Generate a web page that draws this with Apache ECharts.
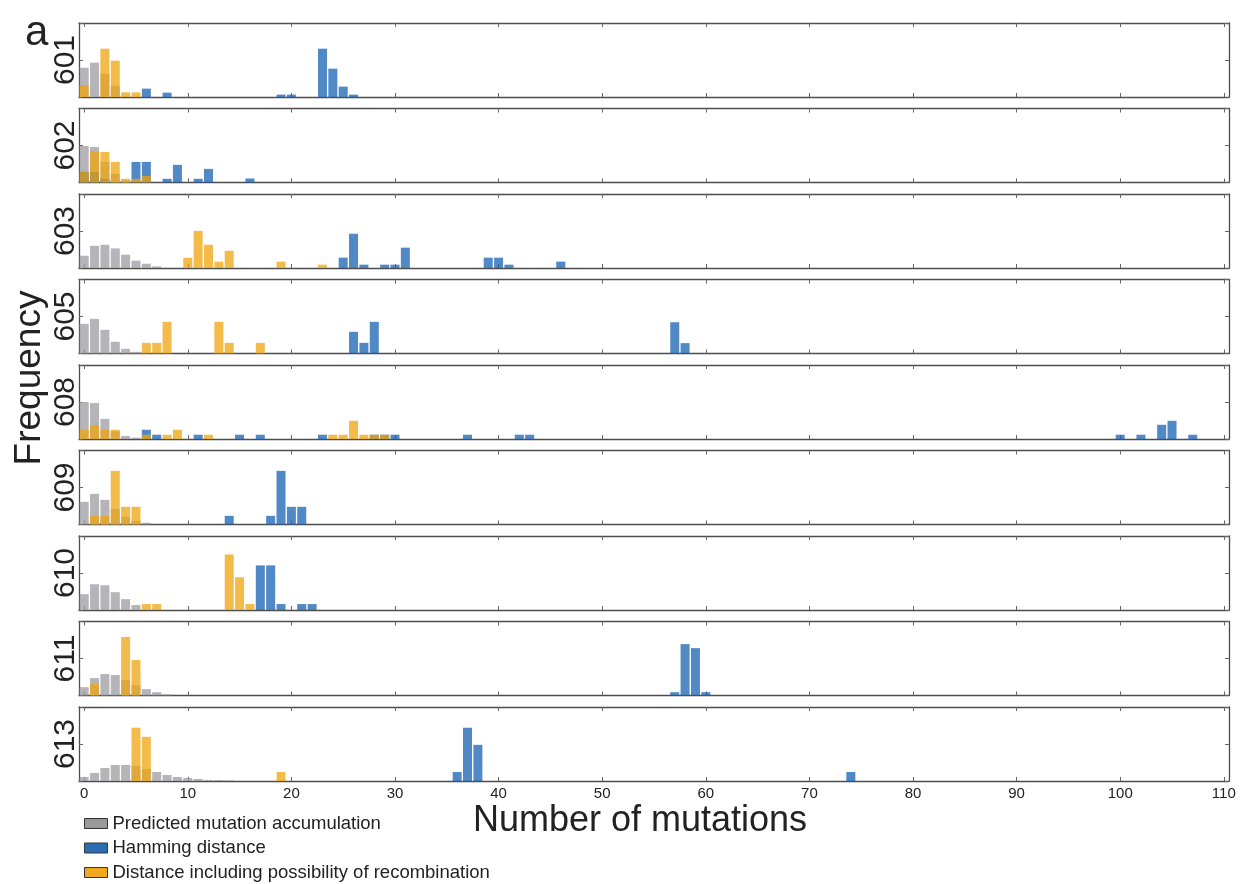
<!DOCTYPE html>
<html>
<head>
<meta charset="utf-8">
<script src="https://cdn.jsdelivr.net/npm/echarts@6/dist/echarts.min.js"></script>
<style>
html,body{margin:0;padding:0;background:#fff;}
#chart{width:1245px;height:884px;}
</style>
</head>
<body>
<div id="chart"></div>
<script>
// ---------- DATA ----------
const panelNames = ['601','602','603','605','608','609','610','611','613'];
const xTickLabels = ['0','10','20','30','40','50','60','70','80','90','100','110'];
const seriesNames = ['Predicted mutation accumulation','Hamming distance','Distance including possibility of recombination'];

// [number of mutations, frequency (fraction of panel height)]
const pred601 = [[0,0.396],[1,0.464],[2,0.315],[3,0.153]];
const ham601  = [[6,0.113],[8,0.059],[19,0.032],[20,0.032],[23,0.653],[24,0.383],[25,0.14],[26,0.032]];
const rec601  = [[0,0.162],[2,0.653],[3,0.491],[4,0.063],[5,0.063]];

const pred602 = [[0,0.493],[1,0.48],[2,0.278],[3,0.117],[4,0.03]];
const ham602  = [[0,0.143],[1,0.143],[2,0.05],[5,0.278],[6,0.278],[8,0.05],[9,0.238],[11,0.05],[12,0.184],[16,0.054]];
const rec602  = [[0,0.143],[1,0.417],[2,0.413],[3,0.278],[4,0.05],[5,0.05],[6,0.09]];

const pred603 = [[0,0.166],[1,0.30],[2,0.314],[3,0.265],[4,0.179],[5,0.099],[6,0.058],[7,0.022]];
const ham603  = [[25,0.14],[26,0.463],[27,0.045],[29,0.045],[30,0.045],[31,0.275],[39,0.14],[40,0.14],[41,0.045],[46,0.086]];
const rec603  = [[10,0.139],[11,0.502],[12,0.314],[13,0.085],[14,0.233],[19,0.086],[23,0.045]];

const pred605 = [[0,0.40],[1,0.468],[2,0.32],[3,0.158],[4,0.063],[5,0.023]];
const ham605  = [[26,0.293],[27,0.144],[28,0.428],[57,0.423],[58,0.14]];
const rec605  = [[6,0.144],[7,0.144],[8,0.428],[13,0.428],[14,0.144],[17,0.144]];

const pred608 = [[0,0.50],[1,0.487],[2,0.272],[3,0.107],[4,0.04],[5,0.018]];
const ham608  = [[6,0.125],[7,0.058],[11,0.058],[15,0.058],[17,0.058],[23,0.058],[28,0.058],[29,0.058],[30,0.058],[37,0.058],[42,0.058],[43,0.058],[100,0.058],[102,0.058],[104,0.192],[105,0.246],[107,0.058]];
const rec608  = [[0,0.125],[1,0.1875],[2,0.125],[3,0.125],[6,0.058],[8,0.058],[9,0.125],[12,0.058],[24,0.058],[25,0.058],[26,0.246],[27,0.058],[28,0.058],[29,0.058]];

const pred609 = [[0,0.306],[1,0.414],[2,0.333],[3,0.212],[4,0.104],[5,0.05],[6,0.023]];
const ham609  = [[14,0.117],[18,0.117],[19,0.725],[20,0.239],[21,0.239]];
const rec609  = [[1,0.117],[2,0.117],[3,0.725],[4,0.239],[5,0.239]];

const pred610 = [[0,0.214],[1,0.348],[2,0.335],[3,0.241],[4,0.147],[5,0.067]];
const ham610  = [[17,0.603],[18,0.603],[19,0.08],[21,0.08],[22,0.08]];
const rec610  = [[6,0.08],[7,0.08],[14,0.75],[15,0.442],[16,0.08]];

const pred611 = [[0,0.113],[1,0.235],[2,0.29],[3,0.276],[4,0.208],[5,0.14],[6,0.086],[7,0.045],[8,0.018]];
const ham611  = [[57,0.045],[58,0.694],[59,0.64],[60,0.045]];
const rec611  = [[1,0.154],[4,0.792],[5,0.48]];

const pred613 = [[0,0.054],[1,0.109],[2,0.176],[3,0.217],[4,0.217],[5,0.204],[6,0.163],[7,0.122],[8,0.081],[9,0.054],[10,0.041],[11,0.027],[12,0.014],[13,0.014],[14,0.009]];
const ham613  = [[36,0.122],[37,0.72],[38,0.489],[74,0.122]];
const rec613  = [[5,0.72],[6,0.597],[19,0.122]];

const predByPanel = [pred601,pred602,pred603,pred605,pred608,pred609,pred610,pred611,pred613];
const hamByPanel  = [ham601,ham602,ham603,ham605,ham608,ham609,ham610,ham611,ham613];
const recByPanel  = [rec601,rec602,rec603,rec605,rec608,rec609,rec610,rec611,rec613];

// ---------- CHART ----------
const FONT = 'Liberation Sans, Arial, Helvetica, sans-serif';
const barColors = ['#9c9ca1', '#1662b2', '#efa40e'];
const legendColors = ['#999999', '#2b6cb5', '#f0a81c'];
const lineColor = '#4d4d4d';

// category axis values 0..110 (derived from tick labels range)
const maxMut = Number(xTickLabels[xTickLabels.length - 1]);
const categories = [];
for (let i = 0; i <= maxMut; i++) categories.push(String(i));

const grids = [], xAxes = [], yAxes = [], series = [];
const n = panelNames.length;
panelNames.forEach((name, i) => {
  const last = i === n - 1;
  grids.push({left: 79, right: 16, top: 23 + 85.5 * i, height: 74});
  xAxes.push({
    type: 'category', gridIndex: i, data: categories, position: 'bottom',
    boundaryGap: true,
    axisLine: {show: true, onZero: false, lineStyle: {color: lineColor, width: 1.3}},
    axisTick: {show: true, inside: true, length: 4, interval: 9, alignWithLabel: true, lineStyle: {color: '#666'}},
    axisLabel: {show: last, interval: 9, margin: 5, fontSize: 15, color: '#222', fontFamily: FONT},
    splitLine: {show: false}
  });
  xAxes.push({
    type: 'category', gridIndex: i, data: categories, position: 'top',
    boundaryGap: true,
    axisLine: {show: true, onZero: false, lineStyle: {color: lineColor, width: 1.3}},
    axisTick: {show: true, inside: true, length: 4, interval: 9, alignWithLabel: true, lineStyle: {color: '#666'}},
    axisLabel: {show: false},
    splitLine: {show: false}
  });
  yAxes.push({
    type: 'value', gridIndex: i, min: 0, max: 1, interval: 0.5, position: 'left',
    name: name, nameLocation: 'middle', nameGap: 13, nameRotate: 90,
    nameTextStyle: {fontSize: 30, color: '#222', fontFamily: FONT, verticalAlign: 'middle'},
    axisLine: {show: true, lineStyle: {color: lineColor, width: 1.3}},
    axisTick: {show: true, inside: true, length: 4, lineStyle: {color: '#666'}},
    axisLabel: {show: false},
    splitLine: {show: false}
  });
  yAxes.push({
    type: 'value', gridIndex: i, min: 0, max: 1, interval: 0.5, position: 'right',
    axisLine: {show: true, lineStyle: {color: lineColor, width: 1.3}},
    axisTick: {show: true, inside: true, length: 4, lineStyle: {color: '#666'}},
    axisLabel: {show: false},
    splitLine: {show: false}
  });
  const datasets = [predByPanel[i], hamByPanel[i], recByPanel[i]];
  datasets.forEach((d, k) => {
    series.push({
      type: 'bar', name: seriesNames[k],
      xAxisIndex: 2 * i, yAxisIndex: 2 * i,
      data: d,
      barWidth: '87%', barGap: '-100%',
      itemStyle: {color: barColors[k], opacity: 0.75},
      emphasis: {disabled: true},
      z: 2 + k
    });
  });
});

const chart = echarts.init(document.getElementById('chart'), null, {renderer: 'canvas'});
chart.setOption({
  animation: false,
  backgroundColor: '#fff',
  grid: grids,
  xAxis: xAxes,
  yAxis: yAxes,
  series: series,
  legend: {
    orient: 'vertical', left: 84, top: 814, padding: 0,
    width: 600, height: 70,
    itemWidth: 23, itemHeight: 10, itemGap: 5.5, icon: 'rect',
    textStyle: {fontSize: 18.5, color: '#222', fontFamily: FONT, lineHeight: 19},
    selectedMode: false,
    data: seriesNames.map((s, k) => ({
      name: s,
      itemStyle: {color: legendColors[k], opacity: 1, borderColor: '#333', borderWidth: 1}
    }))
  },
  graphic: [
    {type: 'text', left: 25, top: 12, style: {text: 'a', fontSize: 42, fill: '#222', fontFamily: FONT}},
    {type: 'text', x: 30, y: 378, rotation: Math.PI / 2,
      style: {text: 'Frequency', fontSize: 37, fill: '#222', fontFamily: FONT, align: 'center', verticalAlign: 'middle'}},
    {type: 'text', x: 640, y: 821,
      style: {text: 'Number of mutations', fontSize: 36, fill: '#222', fontFamily: FONT, align: 'center', verticalAlign: 'middle'}}
  ]
});
</script>
</body>
</html>
